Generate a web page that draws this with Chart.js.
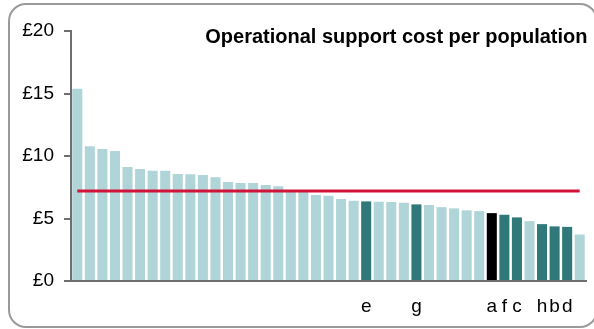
<!DOCTYPE html>
<html>
<head>
<meta charset="utf-8">
<script src="https://cdn.jsdelivr.net/npm/chart.js@4.4.1/dist/chart.umd.min.js"></script>
<style>
  html, body { margin: 0; padding: 0; background: #fff; }
  #wrap { position: relative; width: 594px; height: 329px; overflow: hidden; }
  #frame { position: absolute; left: 8px; top: 3px; width: 586px; height: 321px;
    border: 2px solid #9a9a9a; border-radius: 18px; pointer-events: none; }
  canvas { position: absolute; left: 0; top: 0; }
</style>
</head>
<body>
<div id="wrap">
  <canvas id="myChart" width="594" height="329"></canvas>
  <div id="frame"></div>
</div>
<script>
document.addEventListener('DOMContentLoaded', init);

var title_text = 'Operational support cost per population';
// one letter under the highlighted bars, blank otherwise
var bar_labels = ['', '', '', '', '', '', '', '', '', '', '', '', '', '', '', '', '', '', '', '',
	'', '', '', 'e', '', '', '', 'g', '', '', '', '', '', 'a', 'f', 'c', '', 'h', 'b', 'd', ''];
var cost_values = [15.38, 10.79, 10.57, 10.41, 9.13, 8.97, 8.83, 8.83, 8.56, 8.54,
	8.48, 8.30, 7.92, 7.84, 7.84, 7.68, 7.58, 7.15, 7.15, 6.88,
	6.82, 6.56, 6.42, 6.37, 6.34, 6.32, 6.26, 6.13, 6.08, 5.91,
	5.81, 5.65, 5.59, 5.43, 5.30, 5.09, 4.79, 4.55, 4.37, 4.33, 3.72];
var average_value = 7.2;
var y_ticks = [0, 5, 10, 15, 20];

var ctx, chart;

function init() {
	let bar_colors = bar_labels.map(function(l) {
		if(l == 'a') return '#000000';
		if(l != '') return '#31787a';
		return '#b0d5d8';
	});
	let avg_line = cost_values.map(function() { return average_value; });

	var titlePlugin = {
		id: 'cornerTitle',
		afterDraw: function(c) {
			let g = c.ctx;
			g.save();
			g.font = 'bold 20px "Liberation Sans", Arial, sans-serif';
			g.fillStyle = '#000';
			g.textAlign = 'right';
			g.textBaseline = 'alphabetic';
			g.fillText(title_text, c.chartArea.right + 1.5, 43);
			g.restore();
		}
	};

	ctx = document.getElementById('myChart');
	chart = new Chart(ctx, {
		data: {
			labels: bar_labels,
			datasets: [{
				type: 'line',
				data: avg_line,
				borderColor: '#d2143a',
				borderWidth: 3,
				pointRadius: 0,
				order: 0
			}, {
				type: 'bar',
				data: cost_values,
				backgroundColor: bar_colors,
				barPercentage: 0.8,
				categoryPercentage: 1,
				order: 1
			}]
		},
		options: {
			responsive: false,
			animation: false,
			layout: { padding: { left: 21, right: 8, top: 31, bottom: 12 } },
			plugins: { legend: { display: false }, tooltip: { enabled: false } },
			scales: {
				x: {
					afterFit: function(s) { s.height = 36; },
					grid: { display: false },
					border: { color: '#6e6e6e', width: 2 },
					ticks: {
						autoSkip: false, maxRotation: 0, padding: 6, color: '#000',
						font: { family: '"Liberation Sans", Arial, sans-serif', size: 19 }
					}
				},
				y: {
					min: 0, max: 20,
					afterBuildTicks: function(s) { s.ticks = y_ticks.map(function(v) { return { value: v }; }); },
					afterFit: function(s) { s.width = 50; },
					grid: { drawOnChartArea: false, tickLength: 7, color: '#6e6e6e', lineWidth: 2 },
					border: { color: '#6e6e6e', width: 2 },
					ticks: {
						padding: 10, color: '#000',
						font: { family: '"Liberation Sans", Arial, sans-serif', size: 19 },
						callback: function(v) { return '£' + v; }
					}
				}
			}
		},
		plugins: [titlePlugin]
	});
}
</script>
</body>
</html>
